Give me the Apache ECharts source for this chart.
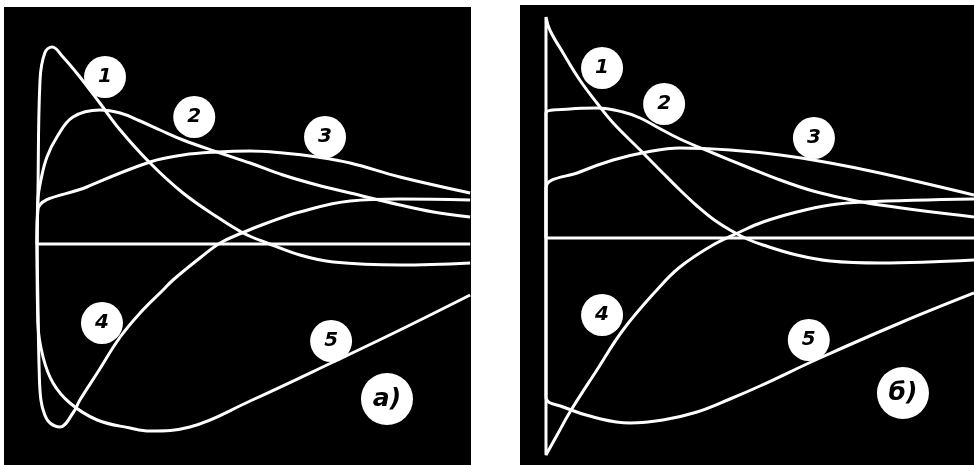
<!DOCTYPE html>
<html>
<head>
<meta charset="utf-8">
<script src="https://cdn.jsdelivr.net/npm/echarts@6/dist/echarts.min.js"></script>
<style>
  html, body { margin: 0; padding: 0; background: #fff; }
  #chart { width: 974px; height: 465px; }
</style>
</head>
<body>
<div id="chart"></div>
<script>
// panel а) : [t, value]
var a1 = [[0,0],[0.02,2.35],[0.07,8.2],[0.18,9.55],[0.35,9.85],[0.6,9.35],[0.99,8.35],[1.45,7.05],[1.92,5.7],[2.61,4.05],[3.37,2.55],[4.16,1.35],[4.76,0.55],[5.31,0.05],[6.07,-0.55],[6.84,-0.9],[8.38,-1.05],[10,-0.95]];
var a2 = [[0,0],[0.02,2.2],[0.1,3.3],[0.23,4.35],[0.46,5.35],[0.83,6.35],[1.45,6.7],[1.92,6.55],[2.38,6.15],[2.84,5.7],[3.37,5.2],[4.16,4.6],[4.92,4.05],[5.68,3.45],[6.47,2.95],[7.23,2.55],[8.38,1.95],[9.15,1.6],[10,1.35]];
var a3 = [[0,0],[0.02,1.7],[1.15,2.85],[2.61,4.1],[3.37,4.45],[4.16,4.6],[4.92,4.65],[5.68,4.55],[6.47,4.35],[7.23,4.05],[8.38,3.35],[10,2.55]];
var a4 = [[0,0],[0.02,-2.8],[0.05,-6.3],[0.09,-7.8],[0.18,-8.55],[0.3,-8.95],[0.53,-9.15],[0.83,-8.45],[0.99,-7.8],[1.39,-6.45],[1.92,-4.65],[2.38,-3.45],[2.91,-2.3],[3.14,-1.8],[3.76,-0.7],[4.23,0.05],[4.73,0.55],[5.31,1.05],[6.07,1.6],[7.23,2.15],[8.38,2.25],[10,2.2]];
var a5 = [[0,0],[0.02,-3.95],[0.14,-5.65],[0.37,-6.95],[0.76,-7.95],[1.39,-8.8],[2.15,-9.2],[2.61,-9.35],[3.53,-9.15],[4.92,-7.85],[6.84,-5.9],[8.38,-4.3],[10,-2.55]];

// panel б)
var b1 = [[0,0],[0,11.05],[0.09,10.4],[0.4,9.25],[0.79,7.9],[1.19,6.75],[1.57,5.75],[2.2,4.4],[2.73,3.25],[3.13,2.4],[3.53,1.6],[3.9,0.95],[4.3,0.4],[4.7,-0.05],[5.07,-0.35],[5.86,-0.85],[6.64,-1.15],[7.8,-1.25],[10,-1.1]];
var b2 = [[0,0],[0,6.25],[0.56,6.45],[1.19,6.5],[1.8,6.3],[2.2,6.0],[2.59,5.55],[3.13,4.95],[3.9,4.25],[4.7,3.55],[5.47,2.9],[6.24,2.35],[7.03,1.95],[7.8,1.65],[10,1.05]];
var b3 = [[0,0],[0,2.5],[0.79,3.3],[1.57,3.9],[2.36,4.3],[3.13,4.5],[4.3,4.4],[5.47,4.15],[6.64,3.75],[7.8,3.25],[10,2.15]];
var b4 = [[0,0],[0,-10.85],[0.26,-9.85],[0.56,-8.7],[1.19,-6.6],[1.8,-4.6],[2.59,-2.6],[3.13,-1.45],[3.9,-0.35],[4.53,0.3],[5.07,0.8],[5.86,1.3],[6.64,1.65],[7.41,1.8],[10,1.95]];
var b5 = [[0,0],[0,-7.95],[0.4,-8.45],[1.19,-9.0],[1.96,-9.25],[2.73,-9.1],[3.53,-8.7],[4.3,-8.05],[5.0,-7.4],[6.4,-6.0],[8.27,-4.25],[10,-2.75]];

var zeroLine = [[0,0],[10,0]];

// circled tags: [t, value, text]
var tagsA = [[1.57,8.35,'1'],[3.63,6.35,'2'],[6.65,5.35,'3'],[1.5,-3.95,'4'],[6.79,-4.85,'5']];
var tagsB = [[1.31,8.5,'1'],[2.76,6.7,'2'],[6.26,5.0,'3'],[1.31,-3.85,'4'],[6.14,-5.1,'5']];
var panelA = [[8.08,-7.75,'а)']];
var panelB = [[8.34,-7.75,'б)']];

var chart = echarts.init(document.getElementById('chart'), null, { renderer: 'canvas' });

function trace(data, gi) {
  return {
    type: 'line',
    xAxisIndex: gi,
    yAxisIndex: gi,
    data: data,
    showSymbol: false,
    smooth: 0.4,
    lineStyle: { color: '#fff', width: 3 },
    silent: true,
    z: 2
  };
}

function tags(list, gi, size, fontSize) {
  return {
    type: 'scatter',
    xAxisIndex: gi,
    yAxisIndex: gi,
    symbol: 'circle',
    symbolSize: size,
    itemStyle: { color: '#fff', opacity: 1 },
    data: list.map(function (d) { return { value: [d[0], d[1]], name: d[2] }; }),
    label: {
      show: true,
      position: 'inside',
      formatter: '{b}',
      color: '#000',
      fontStyle: 'italic',
      fontWeight: 'bold',
      fontFamily: 'DejaVu Sans',
      fontSize: fontSize
    },
    silent: true,
    z: 5
  };
}

var option = {
  animation: false,
  backgroundColor: '#fff',
  grid: [
    { left: 4, top: 7, width: 467, height: 458, show: true, backgroundColor: '#000', borderWidth: 0 },
    { left: 520, top: 5, width: 454, height: 460, show: true, backgroundColor: '#000', borderWidth: 0 }
  ],
  xAxis: [
    { type: 'value', gridIndex: 0, min: -0.762, max: 10.02, show: false },
    { type: 'value', gridIndex: 1, min: -0.607, max: 10.0, show: false }
  ],
  yAxis: [
    { type: 'value', gridIndex: 0, min: -11.05, max: 11.85, show: false },
    { type: 'value', gridIndex: 1, min: -11.35, max: 11.65, show: false }
  ],
  series: [
    trace(zeroLine, 0),
    trace(a1, 0), trace(a2, 0), trace(a3, 0), trace(a4, 0), trace(a5, 0),
    trace(zeroLine, 1),
    trace(b1, 1), trace(b2, 1), trace(b3, 1), trace(b4, 1), trace(b5, 1),
    tags(tagsA, 0, 42, 20),
    tags(tagsB, 1, 42, 20),
    tags(panelA, 0, 52, 25),
    tags(panelB, 1, 52, 25)
  ]
};

chart.setOption(option);
</script>
</body>
</html>
